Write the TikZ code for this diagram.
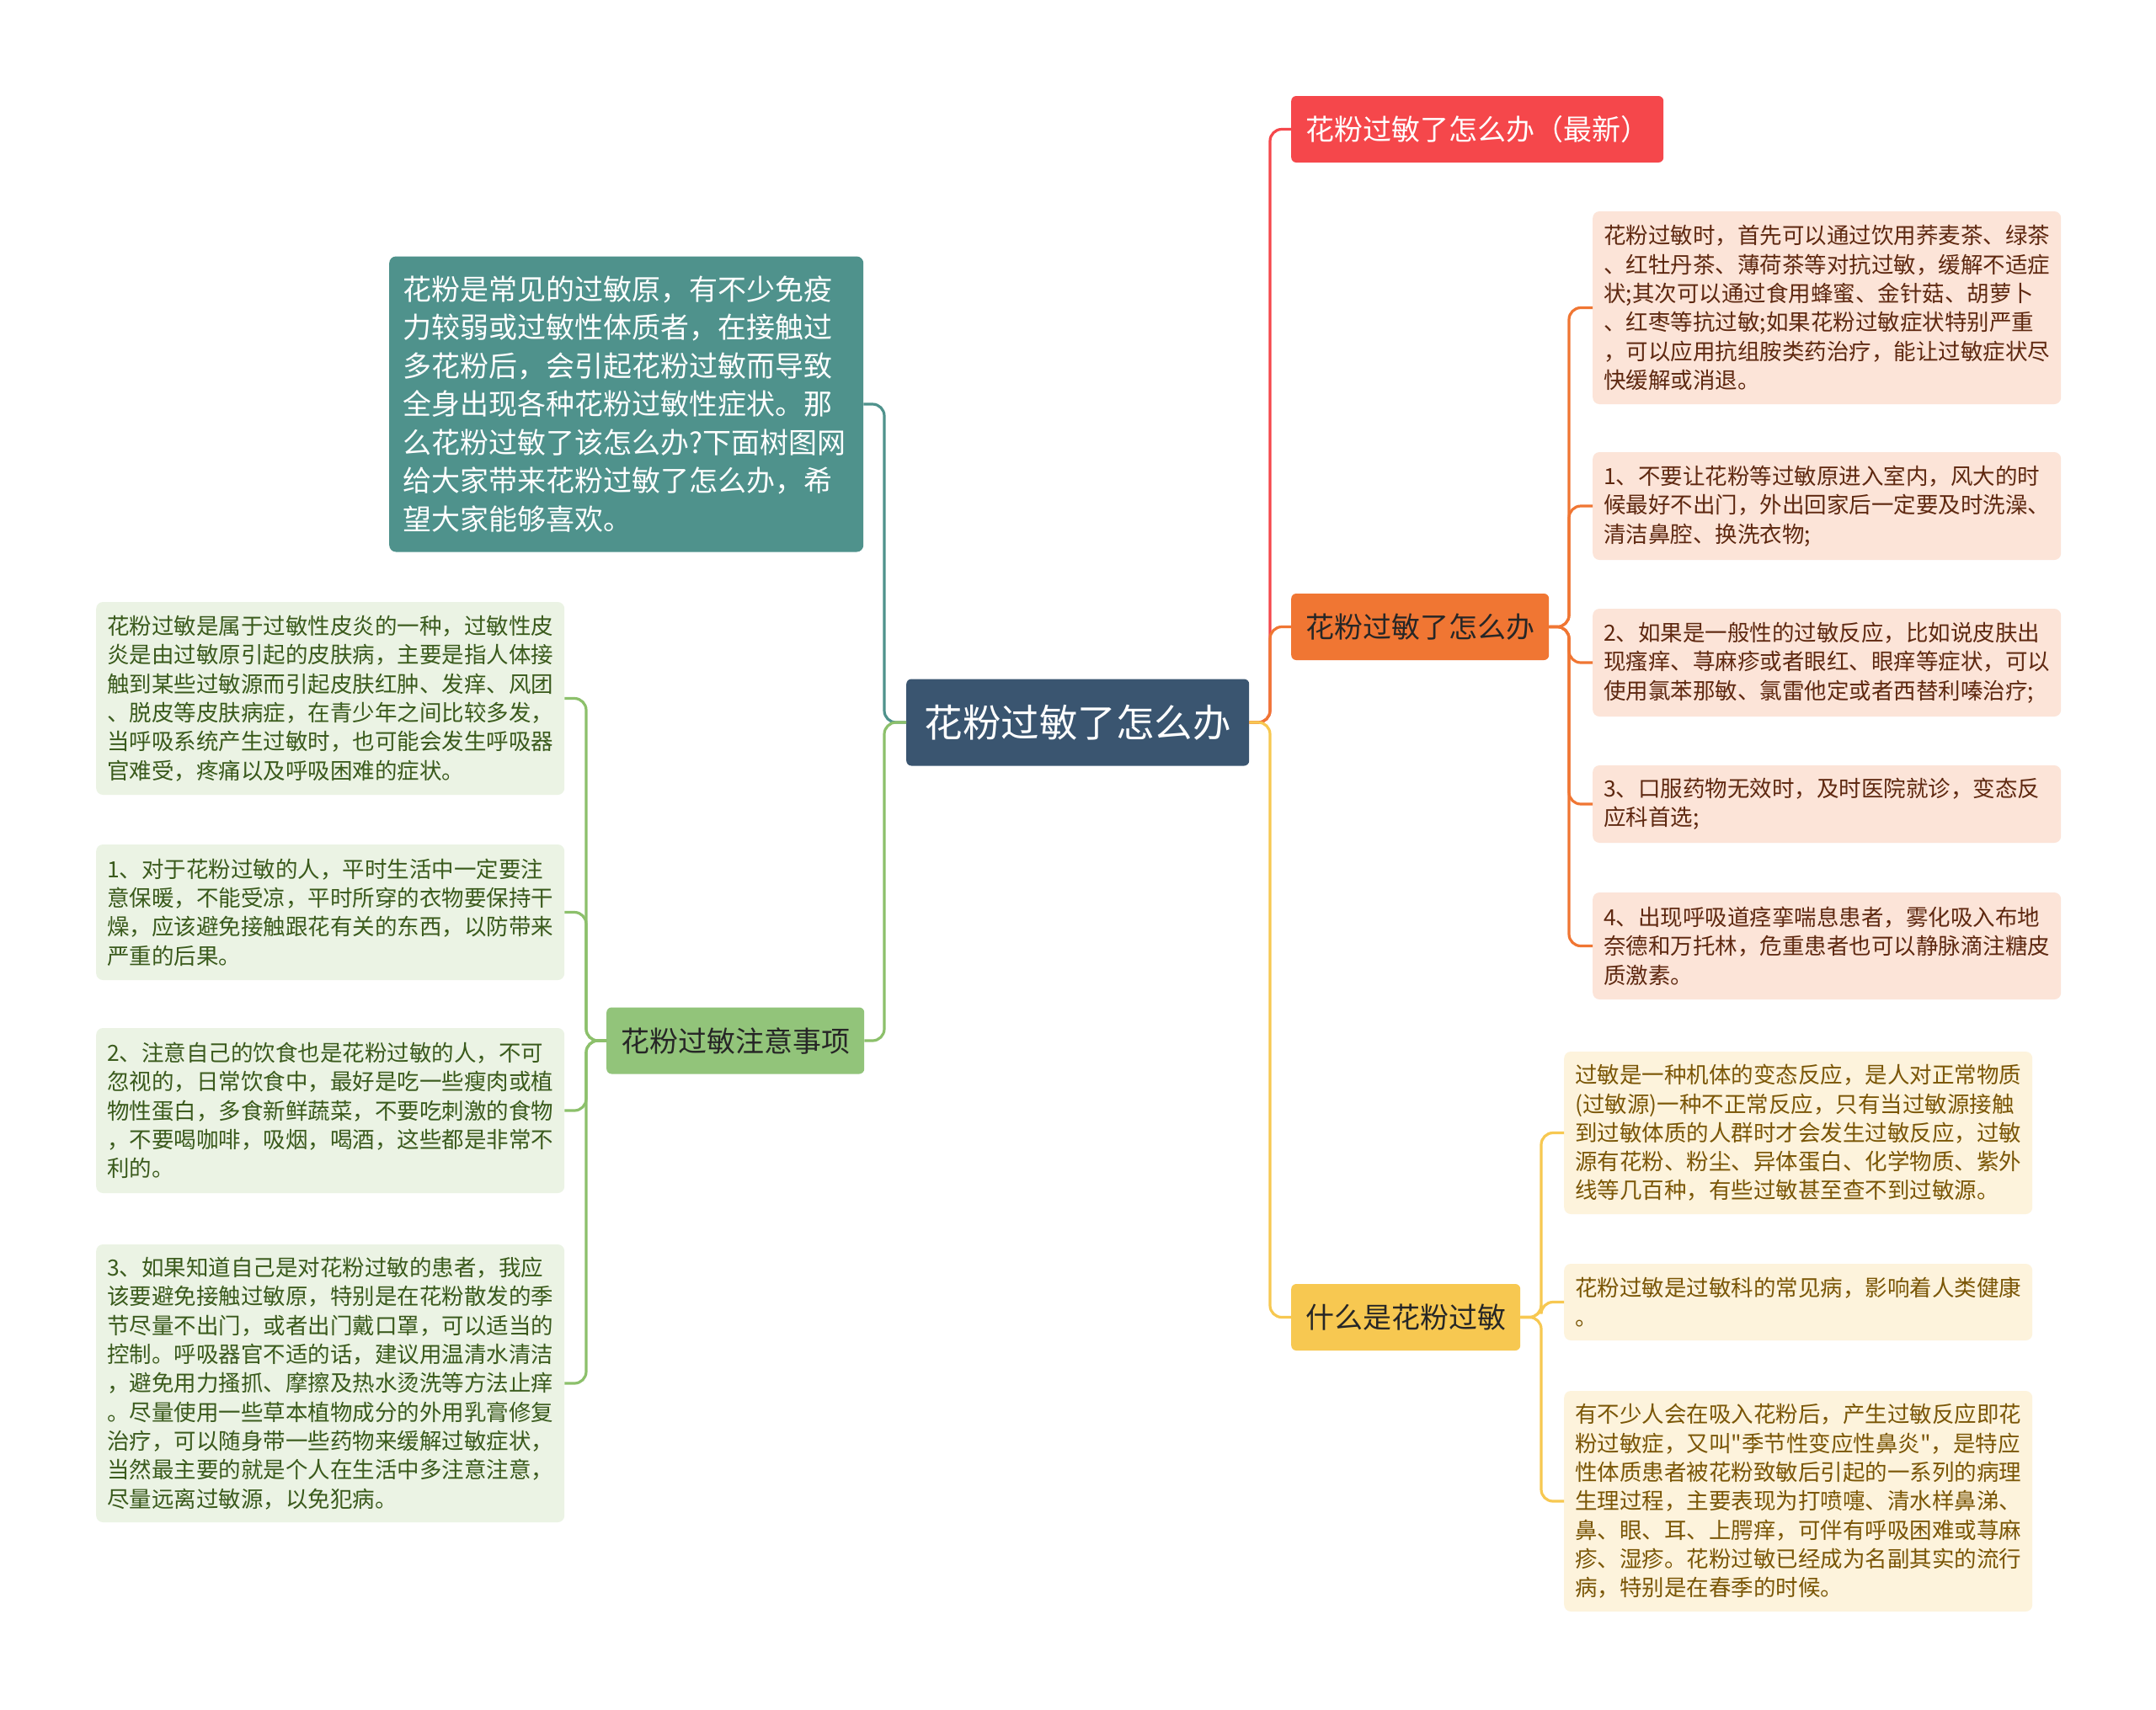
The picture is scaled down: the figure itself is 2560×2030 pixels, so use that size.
\documentclass[tikz,border=0pt]{standalone}
\usepackage{fontspec}
\newfontfamily\cjk{Noto Sans CJK SC}
\usepackage{tikz}
\usepackage{xcolor}
\definecolor{rootblue}{HTML}{3A5570}
\definecolor{introteal}{HTML}{4F928C}
\definecolor{carefill}{HTML}{92C47A}
\definecolor{careleaf}{HTML}{EBF3E4}
\definecolor{caretext}{HTML}{3A5A1C}
\definecolor{careline}{HTML}{8CC06B}
\definecolor{newred}{HTML}{F5474B}
\definecolor{howfill}{HTML}{F07633}
\definecolor{howleaf}{HTML}{FCE4D8}
\definecolor{howtext}{HTML}{5E2810}
\definecolor{whatfill}{HTML}{F7C851}
\definecolor{whatleaf}{HTML}{FDF3DC}
\definecolor{whattext}{HTML}{7A5606}

\begin{document}
\begin{tikzpicture}[x=1pt, y=-1pt,
    topic/.style={rectangle, rounded corners=6pt, inner xsep=17pt, inner ysep=0pt,
        minimum height=79pt, anchor=west, font={\cjk\fontsize{34}{40}\selectfont}},
    leaf/.style={rectangle, rounded corners=8pt, text width=530pt, inner xsep=13pt,
        inner ysep=0pt, align=left, anchor=west, font={\cjk\fontsize{26.5}{34.3}\selectfont}},
    link/.style={line width=3.2pt, rounded corners=14pt}]
    \fill[white] (0,0) rectangle (2560,2030);
    \useasboundingbox (0,0) rectangle (2560,2030);
    % trunks
    \coordinate (rtrunk) at (1508,0);
    \coordinate (ltrunk) at (1050,0);
    \coordinate (otrunk) at (1863,0);
    \coordinate (ytrunk) at (1830,0);
    \coordinate (gtrunk) at (696,0);
    % root
    \node[topic, fill=rootblue, text=white, minimum height=103pt, inner xsep=21.5pt,
        font={\cjk\fontsize{45.5}{50}\selectfont}] (root) at (1076,858) {花粉过敏了怎么办};
    % left side
    \node[leaf, fill=introteal, text=white, text width=531pt, inner xsep=16pt,
        minimum height=351pt, font={\cjk\fontsize{34}{45.5}\selectfont}] (intro) at (462,480)
        {花粉是常见的过敏原，有不少免疫\\力较弱或过敏性体质者，在接触过\\多花粉后，会引起花粉过敏而导致\\全身出现各种花粉过敏性症状。那\\么花粉过敏了该怎么办?下面树图网\\给大家带来花粉过敏了怎么办，希\\望大家能够喜欢。};
    \node[topic, fill=carefill, text=black!85] (care) at (720,1236) {花粉过敏注意事项};
    \node[leaf, fill=careleaf, text=caretext, minimum height=229pt] (careA) at (114,829.5)
        {花粉过敏是属于过敏性皮炎的一种，过敏性皮\\炎是由过敏原引起的皮肤病，主要是指人体接\\触到某些过敏源而引起皮肤红肿、发痒、风团\\、脱皮等皮肤病症，在青少年之间比较多发，\\当呼吸系统产生过敏时，也可能会发生呼吸器\\官难受，疼痛以及呼吸困难的症状。};
    \node[leaf, fill=careleaf, text=caretext, minimum height=161pt] (careB) at (114,1083.5)
        {1、对于花粉过敏的人，平时生活中一定要注\\意保暖，不能受凉，平时所穿的衣物要保持干\\燥，应该避免接触跟花有关的东西，以防带来\\严重的后果。};
    \node[leaf, fill=careleaf, text=caretext, minimum height=196pt] (careC) at (114,1319)
        {2、注意自己的饮食也是花粉过敏的人，不可\\忽视的，日常饮食中，最好是吃一些瘦肉或植\\物性蛋白，多食新鲜蔬菜，不要吃刺激的食物\\，不要喝咖啡，吸烟，喝酒，这些都是非常不\\利的。};
    \node[leaf, fill=careleaf, text=caretext, minimum height=330pt] (careD) at (114,1643)
        {3、如果知道自己是对花粉过敏的患者，我应\\该要避免接触过敏原，特别是在花粉散发的季\\节尽量不出门，或者出门戴口罩，可以适当的\\控制。呼吸器官不适的话，建议用温清水清洁\\，避免用力搔抓、摩擦及热水烫洗等方法止痒\\。尽量使用一些草本植物成分的外用乳膏修复\\治疗，可以随身带一些药物来缓解过敏症状，\\当然最主要的就是个人在生活中多注意注意，\\尽量远离过敏源，以免犯病。};
    % right side
    \node[topic, fill=newred, text=white] (new) at (1533,153.5) {花粉过敏了怎么办（最新）};
    \node[topic, fill=howfill, text=black!85] (how) at (1533,744.5) {花粉过敏了怎么办};
    \node[topic, fill=whatfill, text=black!85] (what) at (1533,1564.5) {什么是花粉过敏};
    \node[leaf, fill=howleaf, text=howtext, minimum height=229pt] (howA) at (1891,365.5)
        {花粉过敏时，首先可以通过饮用荞麦茶、绿茶\\、红牡丹茶、薄荷茶等对抗过敏，缓解不适症\\状;其次可以通过食用蜂蜜、金针菇、胡萝卜\\、红枣等抗过敏;如果花粉过敏症状特别严重\\，可以应用抗组胺类药治疗，能让过敏症状尽\\快缓解或消退。};
    \node[leaf, fill=howleaf, text=howtext, minimum height=128pt] (howB) at (1891,601)
        {1、不要让花粉等过敏原进入室内，风大的时\\候最好不出门，外出回家后一定要及时洗澡、\\清洁鼻腔、换洗衣物;};
    \node[leaf, fill=howleaf, text=howtext, minimum height=128pt] (howC) at (1891,787)
        {2、如果是一般性的过敏反应，比如说皮肤出\\现瘙痒、荨麻疹或者眼红、眼痒等症状，可以\\使用氯苯那敏、氯雷他定或者西替利嗪治疗;};
    \node[leaf, fill=howleaf, text=howtext, minimum height=92pt] (howD) at (1891,955)
        {3、口服药物无效时，及时医院就诊，变态反\\应科首选;};
    \node[leaf, fill=howleaf, text=howtext, minimum height=127pt] (howE) at (1891,1123.5)
        {4、出现呼吸道痉挛喘息患者，雾化吸入布地\\奈德和万托林，危重患者也可以静脉滴注糖皮\\质激素。};
    \node[leaf, fill=whatleaf, text=whattext, minimum height=193pt] (whatA) at (1857,1345.5)
        {过敏是一种机体的变态反应，是人对正常物质\\(过敏源)一种不正常反应，只有当过敏源接触\\到过敏体质的人群时才会发生过敏反应，过敏\\源有花粉、粉尘、异体蛋白、化学物质、紫外\\线等几百种，有些过敏甚至查不到过敏源。};
    \node[leaf, fill=whatleaf, text=whattext, minimum height=91pt] (whatB) at (1857,1546.5)
        {花粉过敏是过敏科的常见病，影响着人类健康\\。};
    \node[leaf, fill=whatleaf, text=whattext, minimum height=262pt] (whatC) at (1857,1783)
        {有不少人会在吸入花粉后，产生过敏反应即花\\粉过敏症，又叫"季节性变应性鼻炎"，是特应\\性体质患者被花粉致敏后引起的一系列的病理\\生理过程，主要表现为打喷嚏、清水样鼻涕、\\鼻、眼、耳、上腭痒，可伴有呼吸困难或荨麻\\疹、湿疹。花粉过敏已经成为名副其实的流行\\病，特别是在春季的时候。};
    % main branches
    \draw[link, newred] (root.east) -- (root.east -| rtrunk) |- (new.west);
    \draw[link, howfill] (root.east) -- (root.east -| rtrunk) |- (how.west);
    \draw[link, whatfill] (root.east) -- (root.east -| rtrunk) |- (what.west);
    \draw[link, introteal] (root.west) -- (root.west -| ltrunk) |- (intro.east);
    \draw[link, careline] (root.west) -- (root.west -| ltrunk) |- (care.west -| care.east);
    % sub branches
    \foreach \k in {A,B,C,D,E}
        \draw[link, howfill] (how.east) -- (how.east -| otrunk) |- (how\k.west);
    \foreach \k in {A,B,C}
        \draw[link, whatfill] (what.east) -- (what.east -| ytrunk) |- (what\k.west);
    \foreach \k in {A,B,C,D}
        \draw[link, careline] (care.west) -- (care.west -| gtrunk) |- (care\k.east);
\end{tikzpicture}
\end{document}
